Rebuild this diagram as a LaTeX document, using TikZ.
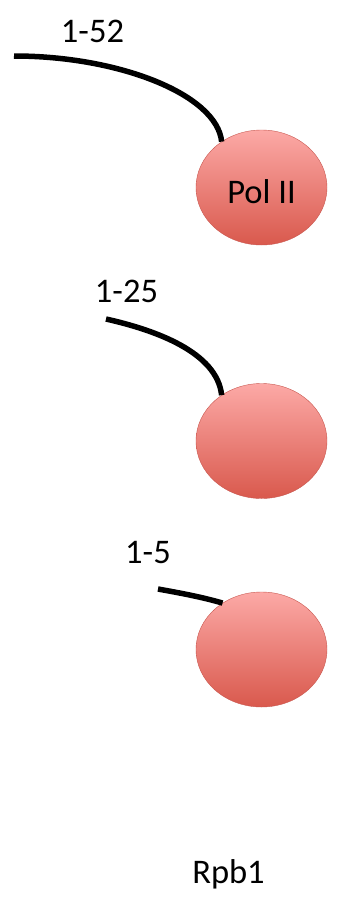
\documentclass[tikz,border=0pt]{standalone}
\usepackage{fontspec}
\setmainfont{Carlito}
\usetikzlibrary{shapes.geometric}
\definecolor{polTop}{HTML}{FCA9A6}
\definecolor{polBot}{HTML}{D9594D}
\definecolor{polEdge}{HTML}{C8574F}

\begin{document}
\begin{tikzpicture}[x=1pt, y=-1pt,
  pol/.style={ellipse, draw=polEdge, thin, top color=polTop, bottom color=polBot, minimum width=131pt, minimum height=115pt, inner sep=0pt},
  tail/.style={line width=5.5pt, black},
  lab/.style={anchor=base, inner sep=0pt, font=\fontsize{34.5}{40}\selectfont}]
\useasboundingbox (0,0) rectangle (337,897);
% three polymerases with tails of decreasing length
\node[pol] (pol1) at (261.5,187.5) {};
\node[pol] (pol2) at (261.5,441) {};
\node[pol] (pol3) at (261.5,649.5) {};
\node[lab] (txt) at (261.5,203) {Pol II};
\coordinate (t1) at (14,56);
\coordinate (t2) at (106,319);
\coordinate (t3) at (158,589);
\draw[tail] (t1) .. controls (120,56) and (217,95) .. (pol1.131);
\draw[tail] (t2) .. controls (155,330) and (217,352) .. (pol2.131);
\draw[tail] (t3) .. controls (180,593) and (202,597) .. (pol3.130);
\node[lab] (l1) at (92.5,42) {1-52};
\node[lab] (l2) at (126.5,302) {1-25};
\node[lab] (l3) at (148,563) {1-5};
\node[lab] (rpb) at (228.5,883) {Rpb1};
\end{tikzpicture}
\end{document}
